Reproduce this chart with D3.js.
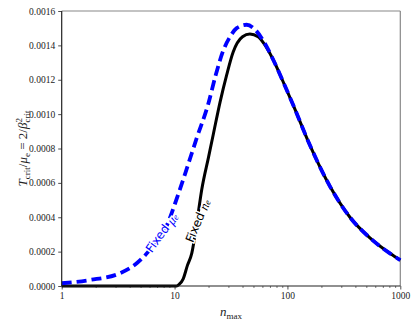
<!DOCTYPE html>
<html>
<head>
  <script src="https://d3js.org/d3.v7.min.js"></script>
  <style>
    body { margin: 0; background: #fff; }
    .tick text { font-family: 'Liberation Serif', serif; font-size: 9.5px; fill: #222; }
    .math { font-family: 'Liberation Serif', serif; }
    .lbl { font-family: 'DejaVu Sans', sans-serif; font-size: 12px; }
  </style>
</head>
<body>
  <svg id="chart" width="418" height="327"></svg>
  <script>
    // Fixed n_e (black, solid)
    const nFixedNe = [1, 5, 10.4, 11, 11.9, 13, 14.2, 16, 17.4, 20, 22, 25.3, 29, 33, 40, 46.5, 55, 62, 75, 90, 113, 158, 238, 358, 538, 809, 1000];
    const vFixedNe = [0, 0, 0, 0.00001, 0.00004, 0.00012, 0.00019, 0.00040, 0.00056, 0.00075, 0.00088, 0.00107, 0.00123, 0.00136, 0.00145, 0.001466, 0.00145, 0.00141, 0.001315, 0.00120, 0.00105, 0.00082, 0.00058, 0.00040, 0.00028, 0.00019, 0.00015];

    // Fixed mu_e (blue, dashed)
    const nFixedMu = [1, 1.78, 3.28, 4.62, 5.8, 7, 8.5, 10.1, 12.5, 15.7, 19.9, 23, 27, 31, 35.5, 43.5, 52, 62, 75, 90, 113, 158, 238, 358, 538, 809, 1000];
    const vFixedMu = [0.000016, 0.000035, 0.000074, 0.000132, 0.000197, 0.00027, 0.00035, 0.00048, 0.00066, 0.00086, 0.00106, 0.00122, 0.00137, 0.00145, 0.00150, 0.00152, 0.00149, 0.00142, 0.001315, 0.00120, 0.00105, 0.00082, 0.00058, 0.00040, 0.00028, 0.00019, 0.00015];

    const yTicks = [0, 0.0002, 0.0004, 0.0006, 0.0008, 0.0010, 0.0012, 0.0014, 0.0016];
    const xTicks = [1, 10, 100, 1000];

    const svg = d3.select("#chart");
    const margin = { left: 61.7, right: 17.7, top: 11, bottom: 41 };
    const W = 418, H = 327;

    const x = d3.scaleLog().domain([1, 1000]).range([margin.left, W - margin.right]);
    const y = d3.scaleLinear().domain([0, 0.0016]).range([H - margin.bottom, margin.top]);

    // minor ticks on log axis
    const minor = [];
    for (let d = 1; d < 1000; d *= 10) for (let k = 2; k <= 9; k++) minor.push(d * k);

    svg.append("g")
      .attr("transform", `translate(0,${y(0)})`)
      .call(d3.axisBottom(x).tickValues(minor).tickSize(2).tickFormat(""))
      .call(g => g.select(".domain").remove())
      .call(g => g.selectAll("line").attr("stroke", "#222").attr("stroke-width", 0.6));

    svg.append("g")
      .attr("transform", `translate(0,${y(0)})`)
      .call(d3.axisBottom(x).tickValues(xTicks).tickSize(3.5).tickPadding(3).tickFormat(d3.format("d")))
      .call(g => g.select(".domain").remove())
      .call(g => g.selectAll("line").attr("stroke", "#222").attr("stroke-width", 0.8));

    svg.append("g")
      .attr("transform", `translate(${margin.left},0)`)
      .call(d3.axisLeft(y).tickValues(yTicks).tickSize(3.5).tickPadding(3).tickFormat(d3.format(".4f")))
      .call(g => g.select(".domain").remove())
      .call(g => g.selectAll("line").attr("stroke", "#222").attr("stroke-width", 0.8));

    // frame: left/bottom dark, top/right grey
    const x0 = x(1), x1 = x(1000), y0 = y(0), y1 = y(0.0016);
    svg.append("line").attr("x1", x0).attr("x2", x1).attr("y1", y1).attr("y2", y1).attr("stroke", "#888").attr("stroke-width", 1.2);
    svg.append("line").attr("x1", x1).attr("x2", x1).attr("y1", y1).attr("y2", y0).attr("stroke", "#888").attr("stroke-width", 1.2);

    const line = d3.line().x(d => x(d[0])).y(d => y(d[1])).curve(d3.curveMonotoneX);

    const plot = svg.append("g");
    plot.append("path")
      .datum(d3.zip(nFixedNe, vFixedNe))
      .attr("d", line)
      .attr("fill", "none")
      .attr("stroke", "#000")
      .attr("stroke-width", 3);

    plot.append("path")
      .datum(d3.zip(nFixedMu, vFixedMu))
      .attr("d", line)
      .attr("fill", "none")
      .attr("stroke", "#0000ff")
      .attr("stroke-width", 3.8)
      .attr("stroke-dasharray", "10,5");

    svg.append("line").attr("x1", x0).attr("x2", x1).attr("y1", y0).attr("y2", y0).attr("stroke", "#222").attr("stroke-width", 1.2);
    svg.append("line").attr("x1", x0).attr("x2", x0).attr("y1", y1).attr("y2", y0).attr("stroke", "#222").attr("stroke-width", 1.2);

    // inline line labels
    function inlineLabel(n, v, angle, color, sub) {
      const t = svg.append("text")
        .attr("class", "lbl")
        .attr("transform", `translate(${x(n)},${y(v)}) rotate(${angle})`)
        .attr("text-anchor", "middle")
        .attr("dominant-baseline", "central")
        .attr("fill", color)
        .attr("stroke", "#fff")
        .attr("stroke-width", 3)
        .attr("paint-order", "stroke");
      t.append("tspan").text("Fixed ");
      t.append("tspan").attr("class", "math").attr("font-style", "italic").attr("font-size", 13).text(sub);
      t.append("tspan").attr("class", "math").attr("font-style", "italic").attr("font-size", 9).attr("dy", 2).text("e");
    }
    inlineLabel(7.7, 0.00031, -54, "#0000ff", "μ");
    inlineLabel(16.1, 0.00038, -68, "#000", "n");

    // x label
    const xl = svg.append("text").attr("class", "math").attr("x", 231).attr("y", 316)
      .attr("text-anchor", "middle").attr("font-size", 13).attr("fill", "#222");
    xl.append("tspan").attr("font-style", "italic").text("n");
    xl.append("tspan").attr("font-size", 9).attr("dy", 3).text("max");

    // y label
    const yl = svg.append("text").attr("class", "math")
      .attr("transform", `translate(27,${(y0 + y1) / 2}) rotate(-90)`)
      .attr("text-anchor", "middle").attr("font-size", 13).attr("fill", "#222");
    yl.append("tspan").attr("font-style", "italic").text("T");
    yl.append("tspan").attr("font-size", 9).attr("dy", 3).text("crit");
    yl.append("tspan").attr("dy", -3).text("/");
    yl.append("tspan").attr("font-style", "italic").text("μ");
    yl.append("tspan").attr("font-size", 9).attr("dy", 3).text("e");
    yl.append("tspan").attr("dy", -3).text(" = 2/");
    yl.append("tspan").attr("font-style", "italic").text("β");
    yl.append("tspan").attr("font-size", 9).attr("dy", -5).text("2");
    yl.append("tspan").attr("font-size", 9).attr("dy", 8).attr("dx", -4.5).text("crit");
  </script>
</body>
</html>
